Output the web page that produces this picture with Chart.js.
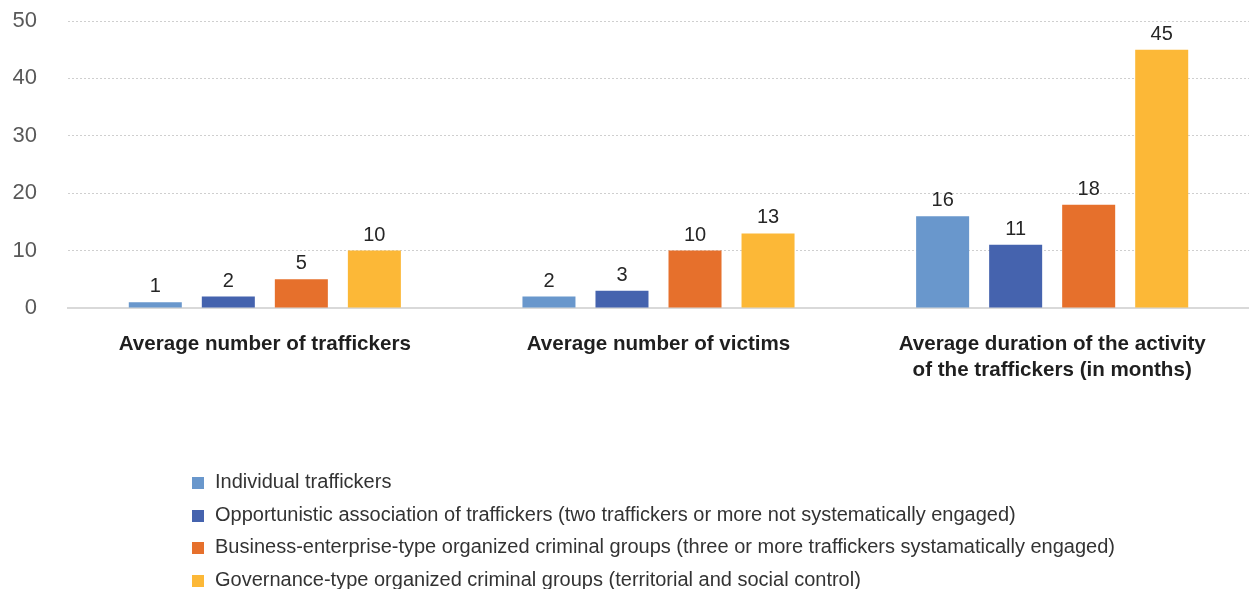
<!DOCTYPE html>
<html>
<head>
<meta charset="utf-8">
<script src="https://cdn.jsdelivr.net/npm/chart.js@4"></script>
<style>
  body { margin: 0; background: #fff; }
  #wrap { position: relative; width: 1249px; height: 589px; }
  #legend {
    position: absolute; left: 192px; top: 465px;
    font-family: "Liberation Sans", Arial, sans-serif; font-size: 20px; color: #333;
  }
  #legend div { height: 32.5px; line-height: 32.5px; white-space: nowrap; }
  #legend span.box { display: inline-block; width: 12px; height: 12px; margin-right: 11px; vertical-align: -1px; }
</style>
</head>
<body>
<div id="wrap">
  <canvas id="myChart"></canvas>
  <div id="legend"></div>
</div>
<script>
const categorias = [
  'Average number of traffickers',
  'Average number of victims',
  ['Average duration of the activity', 'of the traffickers (in months)']
];
const individual = [1, 2, 16];
const oportunistas = [2, 3, 11];
const empresariais = [5, 10, 18];
const governanca = [10, 13, 45];
const yTicks = [0, 10, 20, 30, 40, 50];

const series = [
  { label: 'Individual traffickers', data: individual, cor: '#6997cc' },
  { label: 'Opportunistic association of traffickers (two traffickers or more not systematically engaged)', data: oportunistas, cor: '#4563ae' },
  { label: 'Business-enterprise-type organized criminal groups (three or more traffickers systamatically engaged)', data: empresariais, cor: '#e6702c' },
  { label: 'Governance-type organized criminal groups (territorial and social control)', data: governanca, cor: '#fcb837' }
];

// valores em cima das barras
const rotulos = {
  id: 'rotulos',
  afterDatasetsDraw(chart) {
    const ctx = chart.ctx;
    ctx.save();
    ctx.font = '20px "Liberation Sans", Arial, sans-serif';
    ctx.fillStyle = '#262626';
    ctx.textAlign = 'center';
    ctx.textBaseline = 'alphabetic';
    chart.data.datasets.forEach((ds, i) => {
      chart.getDatasetMeta(i).data.forEach((bar, j) => {
        ctx.fillText(String(ds.data[j]), bar.x, bar.y - 10);
      });
    });
    ctx.restore();
  }
};

const ctx = document.getElementById('myChart').getContext('2d');
const myChart = new Chart(ctx, {
  type: 'bar',
  data: {
    labels: categorias,
    datasets: series.map(s => ({
      label: s.label,
      data: s.data,
      backgroundColor: s.cor,
      categoryPercentage: 0.742,
      barPercentage: 0.726
    }))
  },
  options: {
    responsive: true,
    maintainAspectRatio: false,
    animation: false,
    layout: { padding: { top: 21, right: 0, bottom: 0, left: 0 } },
    plugins: {
      legend: { display: false },
      tooltip: { enabled: false }
    },
    scales: {
      x: {
        grid: { display: false, drawTicks: false },
        border: { display: true, color: '#d9d9d9', width: 2 },
        ticks: {
          padding: 23,
          color: '#1f1f1f',
          font: { family: '"Liberation Sans", Arial, sans-serif', size: 20.6, weight: 'bold', lineHeight: 1.27 },
          maxRotation: 0,
          autoSkip: false
        },
        afterFit(scale) { scale.height = 281; }
      },
      y: {
        min: 0,
        max: 50,
        afterBuildTicks(scale) { scale.ticks = yTicks.map(v => ({ value: v })); },
        grid: { color: '#cfcfcf', lineWidth: 1, drawTicks: false },
        border: { display: false, dash: [2, 2] },
        ticks: {
          padding: 31,
          color: '#595959',
          font: { family: '"Liberation Sans", Arial, sans-serif', size: 22 }
        },
        // sem folga extra em cima: o 50 fica colado no topo
        afterFit(scale) { scale.width = 68; scale.paddingTop = 0; scale.paddingBottom = 0; }
      }
    }
  },
  plugins: [rotulos]
});

// legenda vertical
const legenda = document.getElementById('legend');
myChart.data.datasets.forEach(ds => {
  const linha = document.createElement('div');
  linha.innerHTML = `<span class="box" style="background:${ds.backgroundColor}"></span>${ds.label}`;
  legenda.appendChild(linha);
});
</script>
</body>
</html>
